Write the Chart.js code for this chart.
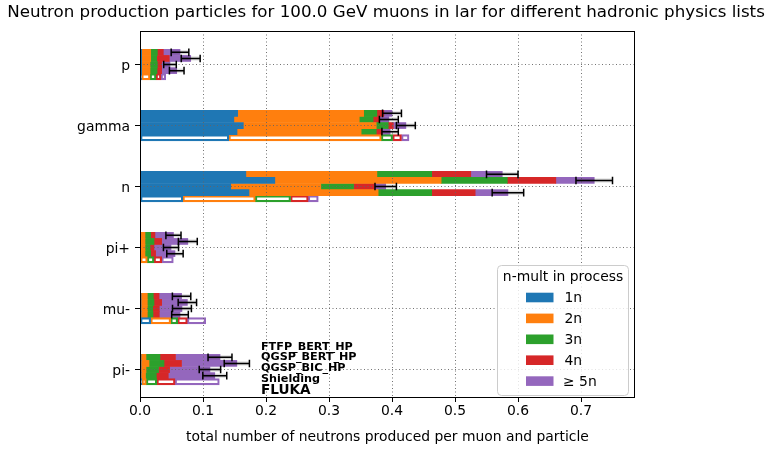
<!DOCTYPE html>
<html>
<head>
<meta charset="utf-8">
<script src="https://cdn.jsdelivr.net/npm/chart.js@4/dist/chart.umd.min.js"></script>
<style>
  html, body { margin: 0; padding: 0; background: #fff; }
</style>
</head>
<body>
<canvas id="chart" width="774" height="455"></canvas>
<script>
var titleText = 'Neutron production particles for 100.0 GeV muons in lar for different hadronic physics lists';
var particles = ['p', 'gamma', 'n', 'pi+', 'mu-', 'pi-'];
var physLists = ['FTFP_BERT_HP', 'QGSP_BERT_HP', 'QGSP_BIC_HP', 'Shielding', 'FLUKA'];
var multLabels = ['1n', '2n', '3n', '4n', '\u2265 5n'];
var multColors = ['#1f77b4', '#ff7f0e', '#2ca02c', '#d62728', '#9467bd'];

// rows: particles, columns: physics lists (same order as above)
var mult1 = [
  [0.0027, 0.0027, 0.0027, 0.0027, 0.0027],
  [0.155, 0.149, 0.164, 0.154, 0.141],
  [0.168, 0.214, 0.144, 0.173, 0.068],
  [0.001, 0.001, 0.001, 0.001, 0.001],
  [0.0016, 0.0016, 0.0016, 0.0016, 0.017],
  [0.0016, 0.0016, 0.0016, 0.0016, 0.003]
];
var mult2 = [
  [0.0143, 0.0143, 0.0132, 0.0132, 0.0132],
  [0.200, 0.199, 0.211, 0.197, 0.242],
  [0.208, 0.264, 0.143, 0.205, 0.115],
  [0.0069, 0.0069, 0.0069, 0.0069, 0.0106],
  [0.010, 0.010, 0.010, 0.010, 0.0317],
  [0.0079, 0.0127, 0.0079, 0.0071, 0.007]
];
var mult3 = [
  [0.0105, 0.0095, 0.0116, 0.0111, 0.0095],
  [0.021, 0.022, 0.019, 0.024, 0.018],
  [0.087, 0.105, 0.052, 0.085, 0.056],
  [0.009, 0.0143, 0.008, 0.009, 0.0106],
  [0.0095, 0.0106, 0.0086, 0.009, 0.0111],
  [0.0222, 0.0238, 0.0199, 0.0172, 0.0167]
];
var mult4 = [
  [0.0095, 0.020, 0.0069, 0.0074, 0.0079],
  [0.011, 0.010, 0.008, 0.009, 0.014],
  [0.062, 0.077, 0.033, 0.069, 0.028],
  [0.0068, 0.0122, 0.0063, 0.0079, 0.0122],
  [0.0091, 0.0122, 0.0104, 0.010, 0.0153],
  [0.0246, 0.0278, 0.0176, 0.019, 0.0289]
];
var mult5 = [
  [0.0265, 0.034, 0.0132, 0.0239, 0.0075],
  [0.013, 0.015, 0.020, 0.013, 0.012],
  [0.050, 0.061, 0.018, 0.052, 0.016],
  [0.0294, 0.0415, 0.027, 0.0307, 0.0185],
  [0.0358, 0.0408, 0.036, 0.0329, 0.0292],
  [0.0707, 0.0878, 0.064, 0.0738, 0.0703]
];
// error on the total, Geant4 lists only (no FLUKA)
var totalErr = [
  [0.014, 0.015, 0.010, 0.0116],
  [0.015, 0.015, 0.015, 0.013],
  [0.025, 0.029, 0.017, 0.025],
  [0.012, 0.015, 0.012, 0.013],
  [0.0146, 0.0146, 0.015, 0.0132],
  [0.019, 0.020, 0.017, 0.019]
];
var xTicks = [0, 0.1, 0.2, 0.3, 0.4, 0.5, 0.6, 0.7];

var multData = [mult1, mult2, mult3, mult4, mult5];

// 10 bar slots per particle, 5 used, 3 empty slots on top
var SLOTS = 60, FIRST = 3, GROUP = 10;
function slotOf(g, k) { return FIRST + GROUP * g + k; }
function isFluka(i) { return (i - FIRST) % GROUP === 4; }

var labels = [];
for (var i = 0; i < SLOTS; i++) labels.push('');
particles.forEach(function(p, g) { labels[slotOf(g, 2)] = p; });
function isCenter(i) { return labels[i] !== ''; }

var datasets = multData.map(function(m, j) {
  var data = labels.map(function() { return null; });
  particles.forEach(function(p, g) {
    physLists.forEach(function(l, k) { data[slotOf(g, k)] = m[g][k]; });
  });
  return {
    label: multLabels[j],
    data: data,
    backgroundColor: function(ctx) { return isFluka(ctx.dataIndex) ? 'rgba(0,0,0,0)' : multColors[j]; },
    borderColor: multColors[j],
    borderWidth: function(ctx) { return isFluka(ctx.dataIndex) ? 1.5 : 0; },
    borderSkipped: false,
    barPercentage: 1,
    categoryPercentage: 1
  };
});

var gridGrey = 'rgba(100,100,100,0.9)';

var extras = {
  id: 'extras',
  afterDraw: function(chart) {
    var c = chart.ctx, xs = chart.scales.x, ys = chart.scales.y, a = chart.chartArea;
    c.save();

    // error bars on the stacked totals
    particles.forEach(function(p, g) {
      for (var k = 0; k < 4; k++) {
        var tot = 0;
        multData.forEach(function(m) { tot += m[g][k]; });
        var y = ys.getPixelForValue(slotOf(g, k));
        var x0 = xs.getPixelForValue(tot - totalErr[g][k]);
        var x1 = xs.getPixelForValue(tot + totalErr[g][k]);
        c.strokeStyle = 'rgba(0,0,0,0.15)';
        c.lineWidth = 4;
        c.beginPath(); c.moveTo(x0, y); c.lineTo(x1, y); c.stroke();
        c.strokeStyle = '#000';
        c.lineWidth = 1.5;
        c.beginPath();
        c.moveTo(x0, y); c.lineTo(x1, y);
        c.moveTo(x0, y - 3.8); c.lineTo(x0, y + 3.8);
        c.moveTo(x1, y - 3.8); c.lineTo(x1, y + 3.8);
        c.stroke();
      }
    });

    // physics list names next to the last group
    var step = ys.getPixelForValue(slotOf(1, 2)) - ys.getPixelForValue(slotOf(0, 2));
    var yc = ys.getPixelForValue(slotOf(5, 2));
    var offs = [-0.37, -0.2, -0.03, 0.15, 0.34];
    var tx = xs.getPixelForValue(0.192);
    c.fillStyle = '#000';
    c.textAlign = 'left';
    c.textBaseline = 'middle';
    physLists.forEach(function(name, k) {
      c.font = 'bold ' + (k === 4 ? 13.6 : 11.2) + 'px "DejaVu Sans"';
      c.fillText(name, tx, yc + offs[k] * step);
    });

    // title
    c.font = '16.7px "DejaVu Sans"';
    c.textAlign = 'center';
    c.fillText(titleText, 386, 13);

    // legend
    var lx = a.right - 138, ly = a.bottom - 132, lw = 131, lh = 130;
    c.beginPath();
    c.roundRect(lx + 0.5, ly + 0.5, lw, lh, 4);
    c.fillStyle = 'rgba(255,255,255,0.8)';
    c.fill();
    c.strokeStyle = '#cccccc';
    c.lineWidth = 1;
    c.stroke();
    c.fillStyle = '#000';
    c.font = '13.9px "DejaVu Sans"';
    c.textAlign = 'center';
    c.fillText('n-mult in process', lx + 66, ly + 12.5);
    c.textAlign = 'left';
    multLabels.forEach(function(lab, j) {
      var cy = ly + 32.5 + j * 20.9;
      c.fillStyle = multColors[j];
      c.fillRect(lx + 29, cy - 4.8, 27.5, 9.6);
      c.fillStyle = '#000';
      c.fillText(lab, lx + (j < 4 ? 67.5 : 66), cy + 1);
    });

    // axes frame
    c.strokeStyle = '#000';
    c.lineWidth = 1;
    c.strokeRect(a.left + 0.5, a.top + 0.5, a.right - a.left - 1, a.bottom - a.top);
    c.restore();
  }
};

Chart.defaults.font.family = 'DejaVu Sans';
Chart.defaults.color = '#000';

new Chart(document.getElementById('chart').getContext('2d'), {
  type: 'bar',
  data: { labels: labels, datasets: datasets },
  plugins: [extras],
  options: {
    responsive: false,
    animation: false,
    indexAxis: 'y',
    layout: { padding: { top: 31, right: 139, left: 0, bottom: 0 } },
    plugins: { legend: { display: false }, tooltip: { enabled: false } },
    scales: {
      x: {
        type: 'linear',
        stacked: true,
        min: 0,
        max: 0.7857,
        afterBuildTicks: function(s) { s.ticks = xTicks.map(function(v) { return { value: v }; }); },
        grid: {
          z: 1, color: gridGrey, lineWidth: 1,
          tickColor: '#000', tickLength: 5, tickBorderDash: []
        },
        border: { display: false, dash: [1, 2.5] },
        ticks: {
          padding: 1, font: { size: 13.9 }, maxRotation: 0,
          callback: function(v) { return Number(v).toFixed(1); }
        },
        title: {
          display: true,
          text: 'total number of neutrons produced per muon and particle',
          font: { size: 13.9 },
          padding: { top: 0, bottom: 9 }
        },
        afterFit: function(s) { s.height = 58; }
      },
      y: {
        type: 'category',
        stacked: true,
        offset: true,
        grid: {
          z: 1, offset: false,
          color: function(ctx) { return isCenter(ctx.index) ? gridGrey : 'rgba(0,0,0,0)'; },
          tickColor: function(ctx) { return isCenter(ctx.index) ? '#000' : 'rgba(0,0,0,0)'; },
          lineWidth: 1, tickLength: 5, tickBorderDash: []
        },
        border: { display: false, dash: [1, 2.5] },
        ticks: { autoSkip: false, padding: 5, labelOffset: 1.5, font: { size: 13.9 } },
        afterFit: function(s) { s.width = 140; }
      }
    }
  }
});
</script>
</body>
</html>
